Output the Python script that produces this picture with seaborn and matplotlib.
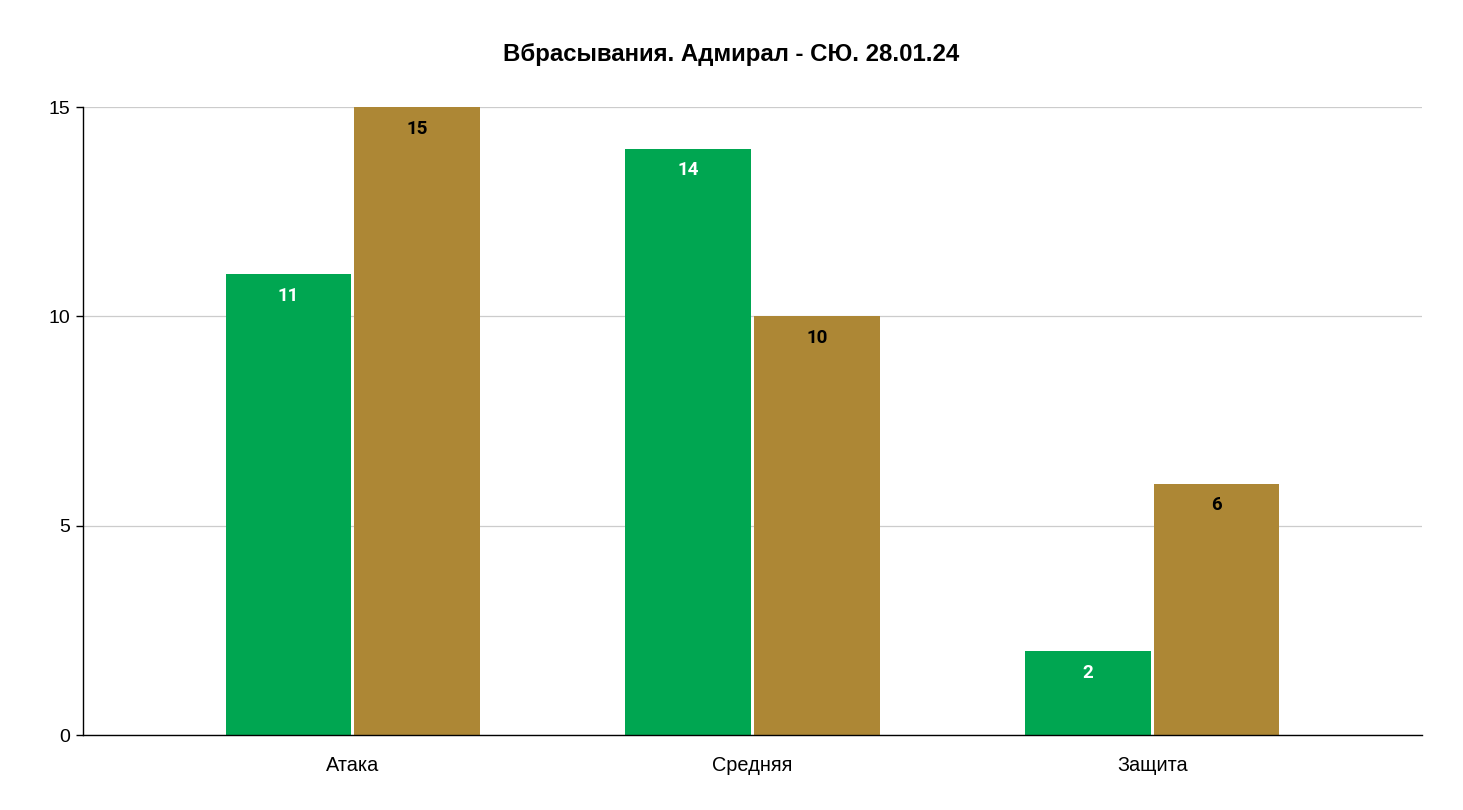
import matplotlib
matplotlib.use("Agg")
import matplotlib.pyplot as plt
import seaborn as sns
import pandas as pd

categories = ["Атака", "Средняя", "Защита"]
series_names = ["Адмирал", "СЮ"]
admiral = [11, 14, 2]
syu = [15, 10, 6]
yticks = [0, 5, 10, 15]
title = "Вбрасывания. Адмирал - СЮ. 28.01.24"

colors = ["#00A651", "#AD8735"]
label_colors = ["white", "black"]

df = pd.DataFrame({
    "cat": categories * 2,
    "team": [series_names[0]] * 3 + [series_names[1]] * 3,
    "val": admiral + syu,
})

sns.set_theme(style="white")
plt.rcParams["font.family"] = ["Liberation Sans", "DejaVu Sans"]

fig = plt.figure(figsize=(14.63, 8.10), dpi=100)
ax = fig.add_axes([83 / 1463, 1 - 735 / 810, (1422 - 83) / 1463, (735 - 107) / 810])

sns.barplot(data=df, x="cat", y="val", hue="team", palette=colors, width=0.645, gap=0.025,
            linewidth=0, saturation=1, ax=ax, legend=False, zorder=2)

for cont, lc in zip(ax.containers, label_colors):
    for p in cont:
        h = p.get_height()
        ax.annotate(f"{int(h)}", (p.get_x() + p.get_width() / 2, h), xytext=(0, -21.5),
                    textcoords="offset pixels", ha="center", va="center",
                    color=lc, fontsize=13.5, fontweight="bold", family="Roboto", zorder=3)

ax.set_xlim(-0.675, 2.675)
ax.set_ylim(0, 15)
ax.set_yticks(yticks)
ax.set_yticklabels([str(t) for t in yticks])
ax.yaxis.grid(True, color="#cccccc", linewidth=0.9, zorder=0)
ax.set_axisbelow(True)
for s in ["top", "right"]:
    ax.spines[s].set_visible(False)
for s in ["left", "bottom"]:
    ax.spines[s].set_color("black")
    ax.spines[s].set_linewidth(1.0)
    ax.spines[s].set_zorder(4)
ax.tick_params(axis="y", left=True, length=5, width=1, color="black", labelsize=14, pad=4, labelcolor="black")
ax.tick_params(axis="x", bottom=False, labelsize=14.3, pad=9, labelcolor="black")
ax.set_xlabel("")
ax.set_ylabel("")
fig.text(0.5, 1 - 55 / 810, title, ha="center", va="center", fontsize=17.3, fontweight="bold", color="black")

fig.savefig("out.png", dpi=100)
